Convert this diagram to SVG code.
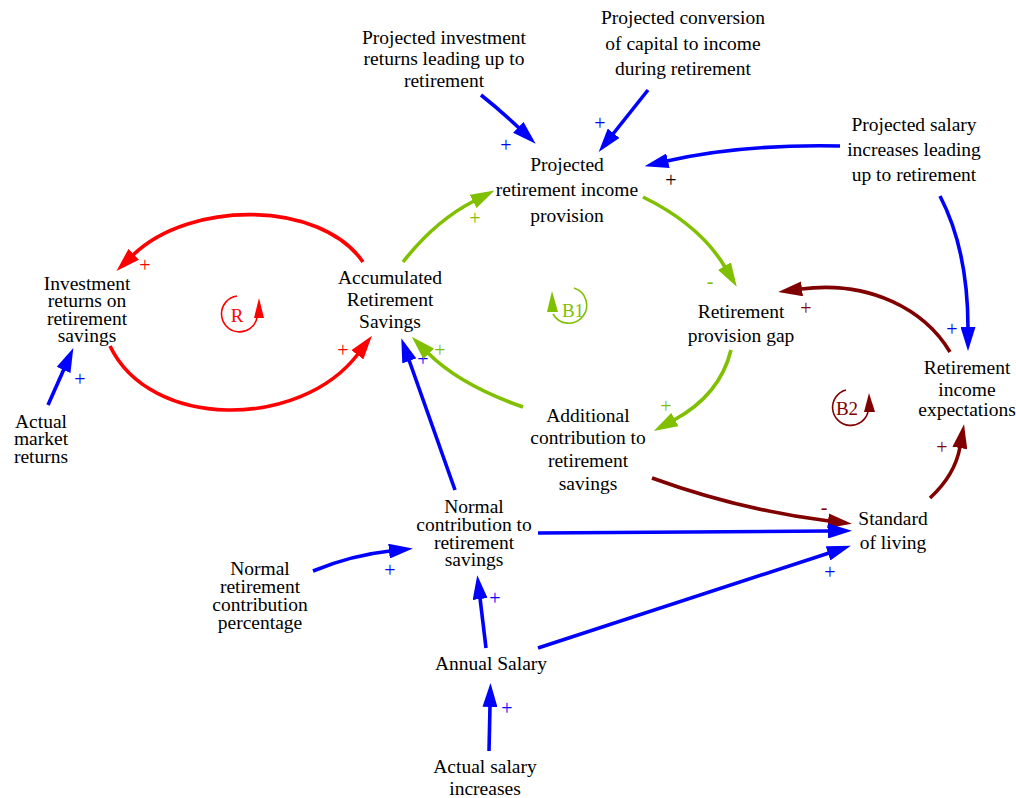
<svg xmlns="http://www.w3.org/2000/svg" width="1016" height="798" viewBox="0 0 1016 798">
<defs>
<style>
.n{font-family:"Liberation Serif","Times New Roman",serif;font-size:19.5px;fill:#000;text-anchor:middle}
.s{font-family:"Liberation Serif","Times New Roman",serif;font-size:20px;text-anchor:middle}
.e{fill:none;stroke-width:3.6;stroke-linecap:butt}
.b{stroke:#0000ff}.r{stroke:#ff0000}.g{stroke:#80c000}.d{stroke:#800000}
.lb{font-family:"Liberation Serif","Times New Roman",serif;font-size:19px;text-anchor:middle}
.la{fill:none;stroke-width:1.6}
</style>
<marker id="mb" markerUnits="userSpaceOnUse" viewBox="0 0 24 15" markerWidth="24" markerHeight="15" refX="1" refY="7.5" orient="auto"><path d="M0,0 L24,7.5 L0,15 z" fill="#0000ff"/></marker>
<marker id="mr" markerUnits="userSpaceOnUse" viewBox="0 0 24 15" markerWidth="24" markerHeight="15" refX="1" refY="7.5" orient="auto"><path d="M0,0 L24,7.5 L0,15 z" fill="#ff0000"/></marker>
<marker id="mg" markerUnits="userSpaceOnUse" viewBox="0 0 24 15" markerWidth="24" markerHeight="15" refX="1" refY="7.5" orient="auto"><path d="M0,0 L24,7.5 L0,15 z" fill="#80c000"/></marker>
<marker id="md" markerUnits="userSpaceOnUse" viewBox="0 0 24 15" markerWidth="24" markerHeight="15" refX="1" refY="7.5" orient="auto"><path d="M0,0 L24,7.5 L0,15 z" fill="#800000"/></marker>
</defs>
<rect width="1016" height="798" fill="#fff"/>

<g id="connectors">
<text class="s" x="423" y="366" fill="#0000ff">+</text>
<path class="e b" d="M481,95 Q500,110 519,128" marker-end="url(#mb)"/>
<path class="e b" d="M648,90 L613,134" marker-end="url(#mb)"/>
<path class="e b" d="M840,146 Q740,144 667,161" marker-end="url(#mb)"/>
<path class="e b" d="M940,196 Q968,250 968,328" marker-end="url(#mb)"/>
<path class="e r" d="M363,262 C320,200 190,200 133,255" marker-end="url(#mr)"/>
<path class="e r" d="M110,346 C150,430 300,430 358,354" marker-end="url(#mr)"/>
<path class="e g" d="M403,262 Q435,221 474,201" marker-end="url(#mg)"/>
<path class="e g" d="M643,197 Q700,225 725,267" marker-end="url(#mg)"/>
<path class="e g" d="M731,350 Q720,395 674,420" marker-end="url(#mg)"/>
<path class="e b" d="M455,490 L409,360" marker-end="url(#mb)"/>
<path class="e g" d="M523,407 Q460,385 428,353" marker-end="url(#mg)"/>
<path class="e d" d="M950,352 C925,310 870,280 801,289" marker-end="url(#md)"/>
<path class="e d" d="M930,498 Q955,475 960,447" marker-end="url(#md)"/>
<path class="e d" d="M652,478 Q740,510 829,521" marker-end="url(#md)"/>
<path class="e b" d="M538,533 L829,531" marker-end="url(#mb)"/>
<path class="e b" d="M538,648 L829,553" marker-end="url(#mb)"/>
<path class="e b" d="M313,571 Q352,555 390,551" marker-end="url(#mb)"/>
<path class="e b" d="M486,648 L480,598" marker-end="url(#mb)"/>
<path class="e b" d="M489,751 L490,706" marker-end="url(#mb)"/>
<path class="e b" d="M48,405 L64,369" marker-end="url(#mb)"/>

<text class="s" x="506" y="152" fill="#0000ff">+</text>
<text class="s" x="600" y="130" fill="#0000ff">+</text>
<text class="s" x="671" y="187" fill="#000">+</text>
<text class="s" x="952" y="336" fill="#0000ff">+</text>
<text class="s" x="145" y="272" fill="#ff0000">+</text>
<text class="s" x="343" y="357" fill="#ff0000">+</text>
<text class="s" x="475" y="225" fill="#80c000">+</text>
<text class="s" x="710" y="288" fill="#80c000">-</text>
<text class="s" x="666" y="413" fill="#80c000">+</text>
<text class="s" x="440" y="357" fill="#80c000">+</text>
<text class="s" x="806" y="315" fill="#800000">+</text>
<text class="s" x="942" y="454" fill="#800000">+</text>
<text class="s" x="824" y="514" fill="#800000">-</text>
<text class="s" x="830" y="579" fill="#0000ff">+</text>
<text class="s" x="390" y="577" fill="#0000ff">+</text>
<text class="s" x="495" y="605" fill="#0000ff">+</text>
<text class="s" x="507" y="715" fill="#0000ff">+</text>
<text class="s" x="80" y="386" fill="#0000ff">+</text>
</g>

<g id="loop-R">
<path class="la" stroke="#ff0000" d="M237,296 A18,18 0 1 0 257,318"/>
<path d="M254,318 L264,318 L259,298 z" fill="#ff0000"/>
<text class="lb" x="237" y="322" fill="#ff0000">R</text>
</g>
<g id="loop-B1">
<path class="la" stroke="#80c000" d="M574,288 A18,18 0 1 1 553,314"/>
<path d="M547,312 L558,312 L552,291 z" fill="#80c000"/>
<text class="lb" x="573" y="317" fill="#80c000">B1</text>
</g>
<g id="loop-B2">
<path class="la" stroke="#800000" d="M846,390 A18,18 0 1 0 868,412"/>
<path d="M864,412 L875,412 L869,393 z" fill="#800000"/>
<text class="lb" x="847" y="415" fill="#800000">B2</text>
</g>

<g id="projected-investment-returns"><text class="n" x="444"><tspan x="444" y="44">Projected investment</tspan><tspan x="444" y="65">returns leading up to</tspan><tspan x="444" y="87">retirement</tspan></text></g>
<g id="projected-conversion"><text class="n" x="683"><tspan x="683" y="24">Projected conversion</tspan><tspan x="683" y="50">of capital to income</tspan><tspan x="683" y="75">during retirement</tspan></text></g>
<g id="projected-provision"><text class="n" x="567"><tspan x="567" y="171">Projected</tspan><tspan x="567" y="196">retirement income</tspan><tspan x="567" y="222">provision</tspan></text></g>
<g id="projected-salary-increases"><text class="n" x="914"><tspan x="914" y="131">Projected salary</tspan><tspan x="914" y="156">increases leading</tspan><tspan x="914" y="181">up to retirement</tspan></text></g>
<g id="investment-returns"><text class="n" x="87"><tspan x="87" y="290">Investment</tspan><tspan x="87" y="307">returns on</tspan><tspan x="87" y="325">retirement</tspan><tspan x="87" y="342">savings</tspan></text></g>
<g id="accumulated-savings"><text class="n" x="390"><tspan x="390" y="284">Accumulated</tspan><tspan x="390" y="306">Retirement</tspan><tspan x="390" y="328">Savings</tspan></text></g>
<g id="actual-market-returns"><text class="n" x="41"><tspan x="41" y="428">Actual</tspan><tspan x="41" y="445">market</tspan><tspan x="41" y="463">returns</tspan></text></g>
<g id="provision-gap"><text class="n" x="741"><tspan x="741" y="318">Retirement</tspan><tspan x="741" y="342">provision gap</tspan></text></g>
<g id="income-expectations"><text class="n" x="967"><tspan x="967" y="374">Retirement</tspan><tspan x="967" y="396">income</tspan><tspan x="967" y="416">expectations</tspan></text></g>
<g id="additional-contribution"><text class="n" x="588"><tspan x="588" y="422">Additional</tspan><tspan x="588" y="444">contribution to</tspan><tspan x="588" y="467">retirement</tspan><tspan x="588" y="490">savings</tspan></text></g>
<g id="normal-contribution"><text class="n" x="474"><tspan x="474" y="513">Normal</tspan><tspan x="474" y="531">contribution to</tspan><tspan x="474" y="549">retirement</tspan><tspan x="474" y="566">savings</tspan></text></g>
<g id="standard-of-living"><text class="n" x="893"><tspan x="893" y="525">Standard</tspan><tspan x="893" y="549">of living</tspan></text></g>
<g id="normal-contribution-pct"><text class="n" x="260"><tspan x="260" y="575">Normal</tspan><tspan x="260" y="593">retirement</tspan><tspan x="260" y="611">contribution</tspan><tspan x="260" y="629">percentage</tspan></text></g>
<g id="annual-salary"><text class="n" x="491" y="670">Annual Salary</text></g>
<g id="actual-salary-increases"><text class="n" x="485"><tspan x="485" y="773">Actual salary</tspan><tspan x="485" y="795">increases</tspan></text></g>
</svg>
